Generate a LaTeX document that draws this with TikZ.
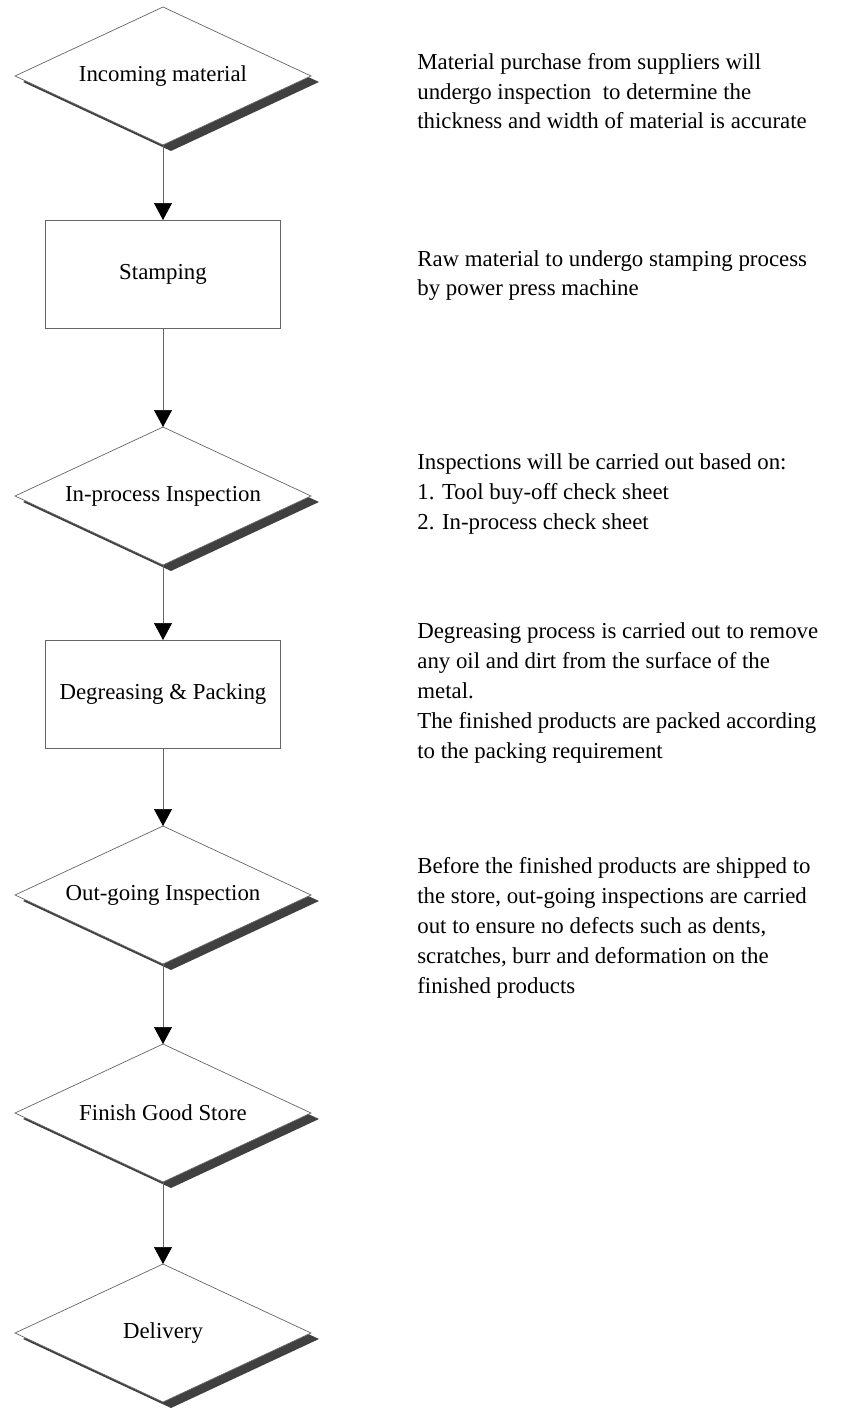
\documentclass[tikz,border=0pt]{standalone}
\usepackage{fontspec}
\setmainfont{Liberation Serif}
\usetikzlibrary{shapes.geometric,shadows,arrows.meta}

\begin{document}
\begin{tikzpicture}
[x=0.02cm,y=-0.02cm,
  every node/.style={font=\fontsize{13}{17}\selectfont},%
  checkdecorate/.style={shape=diamond,aspect=2.15,draw=black!60,line width=0.4pt,fill=white,
    minimum width=5.92cm,minimum height=2.76cm,inner sep=1pt,outer sep=0pt,
    drop shadow={shadow xshift=0.16cm,shadow yshift=-0.12cm,fill=black!75,opacity=1}},%
  workdecorate/.style={shape=rectangle,draw=black!60,line width=0.4pt,fill=white,
    minimum width=4.7cm,minimum height=2.16cm,inner sep=1pt,outer sep=0pt},%
  notedecorate/.style={anchor=base west,align=left,inner sep=0pt},%
  linedecorate/.style={-{Triangle[width=0.36cm,length=0.34cm,color=black]},draw=black!60,line width=0.4pt}]
\useasboundingbox (0,0) rectangle (851,1408);
%% steps of the flow
\foreach \nodename/\x/\y/\txt in {d1/163/76/Incoming material,
  d3/163/496/In-process Inspection, d5/163/895/Out-going Inspection,
  d6/163/1113/Finish Good Store, d7/163/1333/Delivery} {
  \node (\nodename) at (\x,\y) [checkdecorate] {\txt};
}
\foreach \nodename/\x/\y/\txt in {b2/163/274/Stamping, b4/163/694/Degreasing \& Packing} {
  \node (\nodename) at (\x,\y) [workdecorate] {\txt};
}
%% notes on the right (y is the baseline of the last line)
\foreach \nodename/\y/\txt in {
  n1/129/{Material purchase from suppliers will\\undergo inspection \ to determine the\\thickness and width of material is accurate},
  n2/296/{Raw material to undergo stamping process\\by power press machine},
  n3/529/{Inspections will be carried out based on:\\1. Tool buy-off check sheet\\2. In-process check sheet},
  n4/758/{Degreasing process is carried out to remove\\any oil and dirt from the surface of the\\metal.\\The finished products are packed according\\to the packing requirement},
  n5/993/{Before the finished products are shipped to\\the store, out-going inspections are carried\\out to ensure no defects such as dents,\\scratches, burr and deformation on the\\finished products}} {
  \node (\nodename) at (417,\y) [notedecorate] {\txt};
}
%% arrows
\path
\foreach \startnode/\endnode in {d1/b2, b2/d3, d3/b4, b4/d5, d5/d6, d6/d7} {
  (\startnode) edge[linedecorate] (\endnode)
};
\end{tikzpicture}
\end{document}
